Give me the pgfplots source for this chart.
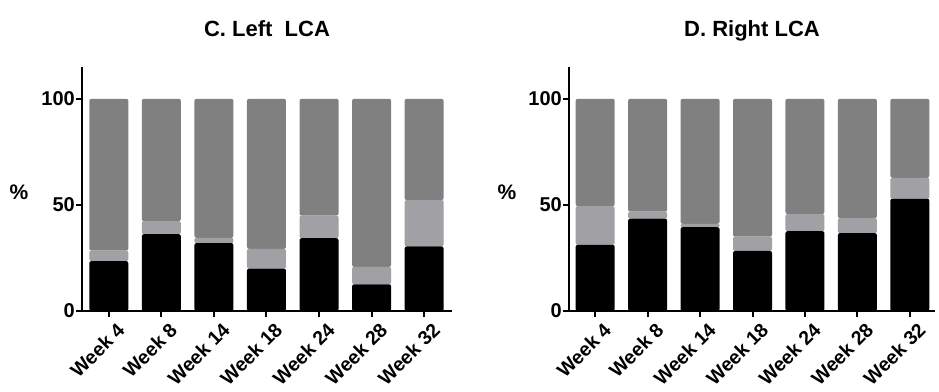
\documentclass[border=0pt]{standalone}
\usepackage{fontspec}
\setmainfont{Liberation Sans}
\usepackage{pgfplots}
\usepackage{pgfplotstable}
\pgfplotsset{compat=1.18}
\definecolor{blk}{RGB}{0,0,0}
\definecolor{lgray}{RGB}{160,160,165}
\definecolor{dgray}{RGB}{128,128,128}
\pgfplotstableread{
x black light dark
0 23.5 5.0 71.5
1 36.2 6.2 57.6
2 32.0 2.5 65.5
3 20.0 9.3 70.7
4 34.3 10.7 55.0
5 12.6 8.2 79.2
6 30.4 21.9 47.7
}\lefttab
\pgfplotstableread{
x black light dark
0 31.2 18.2 50.6
1 43.5 3.3 53.2
2 39.5 1.6 58.9
3 28.3 6.7 65.0
4 37.6 8.1 54.3
5 36.7 7.1 56.2
6 52.9 9.9 37.2
}\righttab
\pgfplotsset{
  mystyle/.style={
    scale only axis,
    height=244bp,
    ymin=0, ymax=115,
    ybar stacked,
    bar width=39bp,
    axis lines*=left,
    axis line style={line width=2.5bp, -},
    ytick={0,50,100},
    xtick={0,...,6},
    xticklabels={Week 4,Week 8,Week 14,Week 18,Week 24,Week 28,Week 32},
    tick align=outside,
    major tick length=6bp,
    tick style={line width=2bp, black},
    yticklabel style={inner sep=1bp, font=\fontsize{20bp}{22bp}\selectfont\bfseries},
    xticklabel style={rotate=45, anchor=north east, inner sep=1bp, yshift=-7bp, xshift=3bp, font=\fontsize{19.5bp}{22bp}\selectfont\bfseries},
    /pgf/number format/assume math mode=true,
    every axis plot/.append style={draw=none, rounded corners=2bp},
    clip=false,
  }
}
\begin{document}
\begin{tikzpicture}
\begin{axis}[mystyle, width=370bp, xmin=-0.51, xmax=6.53]
\addplot[fill=blk] table[x=x,y=black]{\lefttab};
\addplot[fill=lgray] table[x=x,y=light]{\lefttab};
\addplot[fill=dgray] table[x=x,y=dark]{\lefttab};
\node[font=\fontsize{22bp}{24bp}\selectfont\bfseries, anchor=base] at (rel axis cs:0.5,1) [yshift=30bp] {C. Left\ \ LCA};
\node[font=\fontsize{21bp}{22bp}\selectfont\bfseries] at (rel axis cs:0,0) [xshift=-63bp, yshift=119bp] {\%};
\end{axis}
\begin{axis}[mystyle, at={(487bp,0)}, width=366bp, xmin=-0.5, xmax=6.48]
\addplot[fill=blk] table[x=x,y=black]{\righttab};
\addplot[fill=lgray] table[x=x,y=light]{\righttab};
\addplot[fill=dgray] table[x=x,y=dark]{\righttab};
\node[font=\fontsize{22bp}{24bp}\selectfont\bfseries, anchor=base] at (rel axis cs:0.5,1) [yshift=30bp] {D. Right LCA};
\node[font=\fontsize{21bp}{22bp}\selectfont\bfseries] at (rel axis cs:0,0) [xshift=-62bp, yshift=119bp] {\%};
\end{axis}
\pgfresetboundingbox
\path[use as bounding box] (-82bp,-81bp) rectangle (857bp,311bp);
\end{tikzpicture}
\end{document}
